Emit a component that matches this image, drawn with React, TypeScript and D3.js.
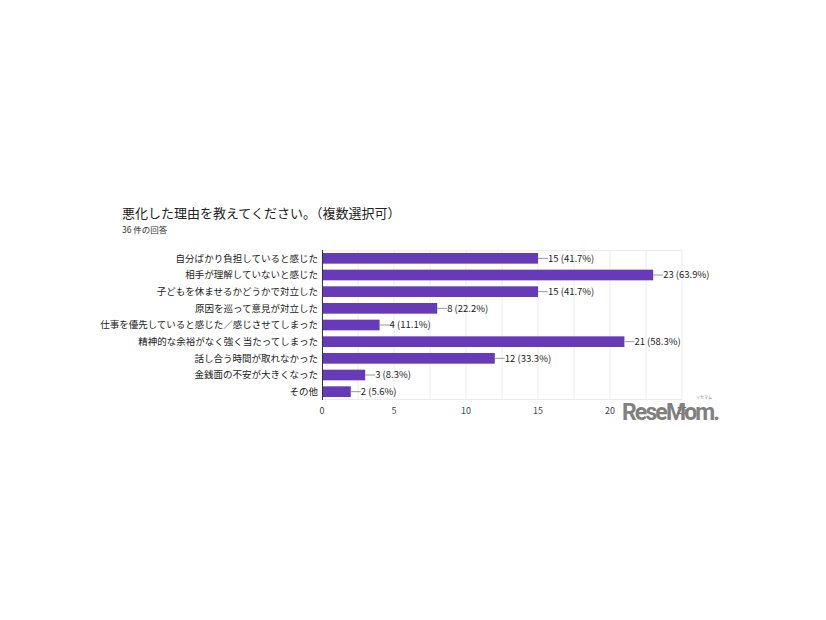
import { useEffect, useRef } from 'react'
import * as d3 from 'd3'

const categories = [
  '自分ばかり負担していると感じた',
  '相手が理解していないと感じた',
  '子どもを休ませるかどうかで対立した',
  '原因を巡って意見が対立した',
  '仕事を優先していると感じた／感じさせてしまった',
  '精神的な余裕がなく強く当たってしまった',
  '話し合う時間が取れなかった',
  '金銭面の不安が大きくなった',
  'その他',
]
const counts = [15, 23, 15, 8, 4, 21, 12, 3, 2]
const percents = ['41.7%', '63.9%', '41.7%', '22.2%', '11.1%', '58.3%', '33.3%', '8.3%', '5.6%']
const xTicks = [0, 5, 10, 15, 20, 25]
const gridValues = d3.range(0, 25.1, 2.5)

const title = '悪化した理由を教えてください。（複数選択可）'
const subtitle = '36 件の回答'

const FONT = '"Noto Sans CJK JP", "Noto Sans", sans-serif'

export default function App() {
  const svgRef = useRef<SVGSVGElement>(null)

  useEffect(() => {
    if (!svgRef.current) return
    const svg = d3.select(svgRef.current)
    svg.selectAll('*').remove()

    const margin = { left: 322, right: 144, top: 250, bottom: 220 }
    const width = 826 - margin.left - margin.right
    const height = 620 - margin.top - margin.bottom

    svg.append('rect').attr('width', 826).attr('height', 620).attr('fill', '#fff')

    svg.append('text')
      .attr('x', 122).attr('y', 218)
      .attr('font-family', FONT).attr('font-size', 13).attr('fill', '#222')
      .text(title)
    svg.append('text')
      .attr('x', 122).attr('y', 233)
      .attr('font-family', FONT).attr('font-size', 8.5).attr('fill', '#333')
      .text(subtitle)

    const g = svg.append('g').attr('transform', `translate(${margin.left},${margin.top})`)

    const x = d3.scaleLinear().domain([0, 25]).range([0, width])
    const y = d3.scaleBand<string>().domain(categories).range([0, height]).paddingInner(0.36).paddingOuter(0.18)

    // grid
    g.selectAll('.grid')
      .data(gridValues)
      .enter()
      .append('line')
      .attr('x1', d => x(d)).attr('x2', d => x(d))
      .attr('y1', 0).attr('y2', height)
      .attr('stroke', '#ececec').attr('stroke-width', 1)
    g.append('line')
      .attr('x1', 0).attr('x2', width).attr('y1', 0.5).attr('y2', 0.5)
      .attr('stroke', '#ececec')
    g.append('line')
      .attr('x1', 0).attr('x2', width).attr('y1', height - 0.5).attr('y2', height - 0.5)
      .attr('stroke', '#ececec')

    // bars
    g.selectAll('.bar')
      .data(categories)
      .enter()
      .append('rect')
      .attr('x', 0)
      .attr('y', d => y(d)!)
      .attr('width', (_, i) => x(counts[i]))
      .attr('height', y.bandwidth())
      .attr('fill', '#673ab7')

    // leader lines and value labels
    categories.forEach((c, i) => {
      const cy = y(c)! + y.bandwidth() / 2
      const xe = x(counts[i])
      g.append('line')
        .attr('x1', xe).attr('x2', xe + 10)
        .attr('y1', cy).attr('y2', cy)
        .attr('stroke', '#999').attr('stroke-width', 1)
      g.append('text')
        .attr('x', xe + 10).attr('y', cy)
        .attr('dy', '0.35em')
        .attr('font-family', FONT).attr('font-size', 9.5).attr('fill', '#222')
        .text(`${counts[i]} (${percents[i]})`)
      g.append('text')
        .attr('x', -4).attr('y', cy)
        .attr('dy', '0.35em')
        .attr('text-anchor', 'end')
        .attr('font-family', FONT).attr('font-size', 9.5).attr('fill', '#222')
        .text(c)
    })

    // axis line
    g.append('line')
      .attr('x1', 0.5).attr('x2', 0.5).attr('y1', 0).attr('y2', height)
      .attr('stroke', '#333').attr('stroke-width', 1)

    // x tick labels
    g.selectAll('.tick')
      .data(xTicks)
      .enter()
      .append('text')
      .attr('x', d => x(d)).attr('y', height + 14)
      .attr('text-anchor', 'middle')
      .attr('font-family', FONT).attr('font-size', 9).attr('fill', '#444')
      .text(d => d)

    // watermark
    svg.append('text')
      .attr('x', 622).attr('y', 420)
      .attr('font-family', '"Liberation Sans Narrow", "Roboto", sans-serif')
      .attr('font-weight', 'bold').attr('font-size', 23)
      .attr('fill', '#7a7a7a').attr('opacity', 0.95)
      .attr('textLength', 98)
      .text('ReseMom.')
    svg.append('text')
      .attr('x', 704).attr('y', 399)
      .attr('font-family', FONT).attr('font-size', 4).attr('fill', '#888')
      .attr('text-anchor', 'middle')
      .text('リセマム')
  }, [])

  return <svg ref={svgRef} width={826} height={620} style={{ display: 'block', margin: '-8px' }} />
}
